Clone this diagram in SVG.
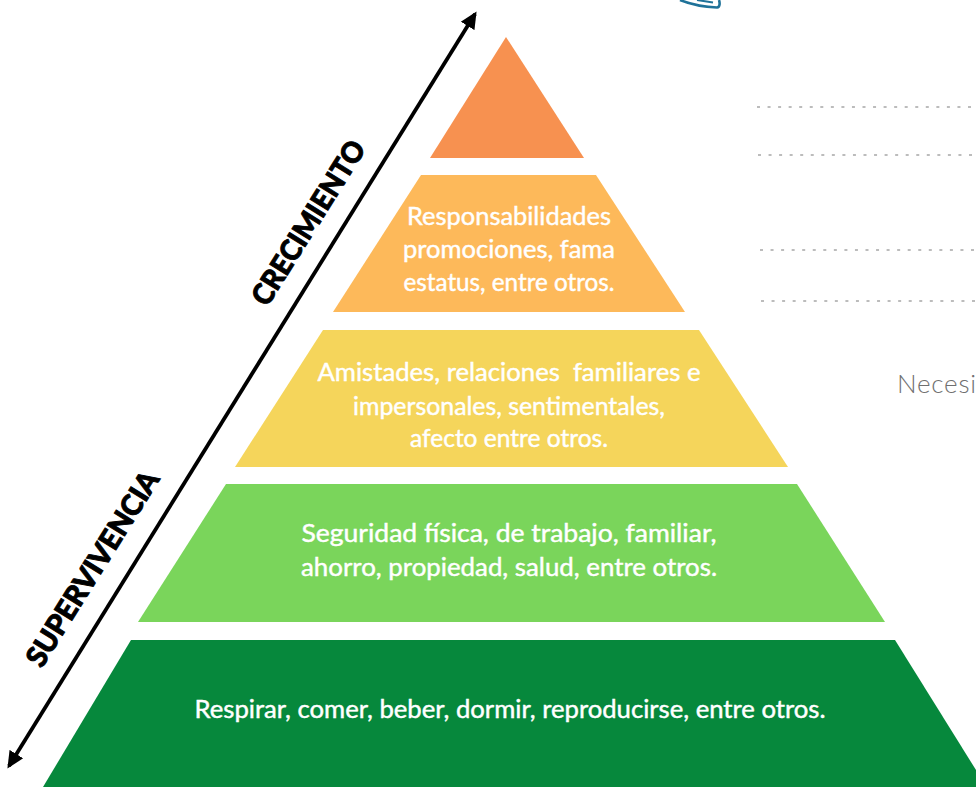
<svg xmlns="http://www.w3.org/2000/svg" width="976" height="787" viewBox="0 0 976 787">
<style>
.t{font-family:"Lato","Liberation Sans",sans-serif;font-size:25px;fill:#fff;stroke:#fff;stroke-width:.45;text-anchor:middle;white-space:pre}
.b{font-family:"Lato","Liberation Sans",sans-serif;font-size:29px;font-weight:900;fill:#000;stroke:#000;stroke-width:.9;text-anchor:middle}
.d{fill:none;stroke:#a6a6a6;stroke-width:1.5;stroke-dasharray:3 7.55}
.a{stroke:#000;stroke-width:3.8;fill:none;marker-start:url(#h);marker-end:url(#h)}
</style>
<defs><marker id="h" markerUnits="userSpaceOnUse" markerWidth="20" markerHeight="18" refX="14" refY="9" orient="auto-start-reverse"><path d="M0 1L17 9L0 17z" fill="#000"/></marker></defs>
<rect width="976" height="787" fill="#fff"/>
<g id="connectors">
<path class="a" d="M475 14L9 766"/>
</g>
<g id="level-5"><polygon points="506,37 584,158 430,158" fill="#f79150"/></g>
<g id="level-4"><polygon points="421,175 596,175 685,312 333,312" fill="#fdb95a"/>
<text class="t" x="509" y="225" textLength="204" lengthAdjust="spacingAndGlyphs">Responsabilidades</text>
<text class="t" x="509" y="258" textLength="212" lengthAdjust="spacingAndGlyphs">promociones, fama</text>
<text class="t" x="509" y="291" textLength="211" lengthAdjust="spacingAndGlyphs">estatus, entre otros.</text></g>
<g id="level-3"><polygon points="323,330 699,330 788,467 235,467" fill="#f5d55b"/>
<text class="t" x="509" y="381" textLength="383" lengthAdjust="spacingAndGlyphs" xml:space="preserve">Amistades, relaciones  familiares e</text>
<text class="t" x="509" y="415" textLength="312" lengthAdjust="spacingAndGlyphs">impersonales, sentimentales,</text>
<text class="t" x="509" y="447" textLength="198" lengthAdjust="spacingAndGlyphs">afecto entre otros.</text></g>
<g id="level-2"><polygon points="226,484 797,484 885,622 138,622" fill="#7ad55b"/>
<text class="t" x="509" y="542" textLength="415" lengthAdjust="spacingAndGlyphs">Seguridad física, de trabajo, familiar,</text>
<text class="t" x="509" y="576" textLength="416" lengthAdjust="spacingAndGlyphs">ahorro, propiedad, salud, entre otros.</text></g>
<g id="level-1"><polygon points="131,640 895,640 976,770 976,787 43,787" fill="#06883c"/>
<text class="t" x="510" y="718" textLength="631" lengthAdjust="spacingAndGlyphs">Respirar, comer, beber, dormir, reproducirse, entre otros.</text></g>
<g id="label-crecimiento"><text class="b" transform="translate(317,228) rotate(-58)" textLength="188" lengthAdjust="spacingAndGlyphs">CRECIMIENTO</text></g>
<g id="label-supervivencia"><text class="b" transform="translate(101,574) rotate(-58)" textLength="224" lengthAdjust="spacingAndGlyphs">SUPERVIVENCIA</text></g>
<g id="lines">
<path class="d" d="M757 107H976"/><path class="d" d="M758 155H976"/><path class="d" d="M760 250H976"/><path class="d" d="M761 301H976"/>
</g>
<g id="necesi"><text x="897" y="393" font-family="Lato,'Liberation Sans',sans-serif" font-size="26" font-weight="300" fill="#6f6f6f" textLength="79">Necesi</text></g>
<g id="fragment"><path d="M680 0C690 4 704 7 717 7.500C720 7 720 3 719 0" fill="none" stroke="#1f7299" stroke-width="2.600"/><path d="M697 0L713 2.500" fill="none" stroke="#1f7299" stroke-width="2"/></g>
</svg>
